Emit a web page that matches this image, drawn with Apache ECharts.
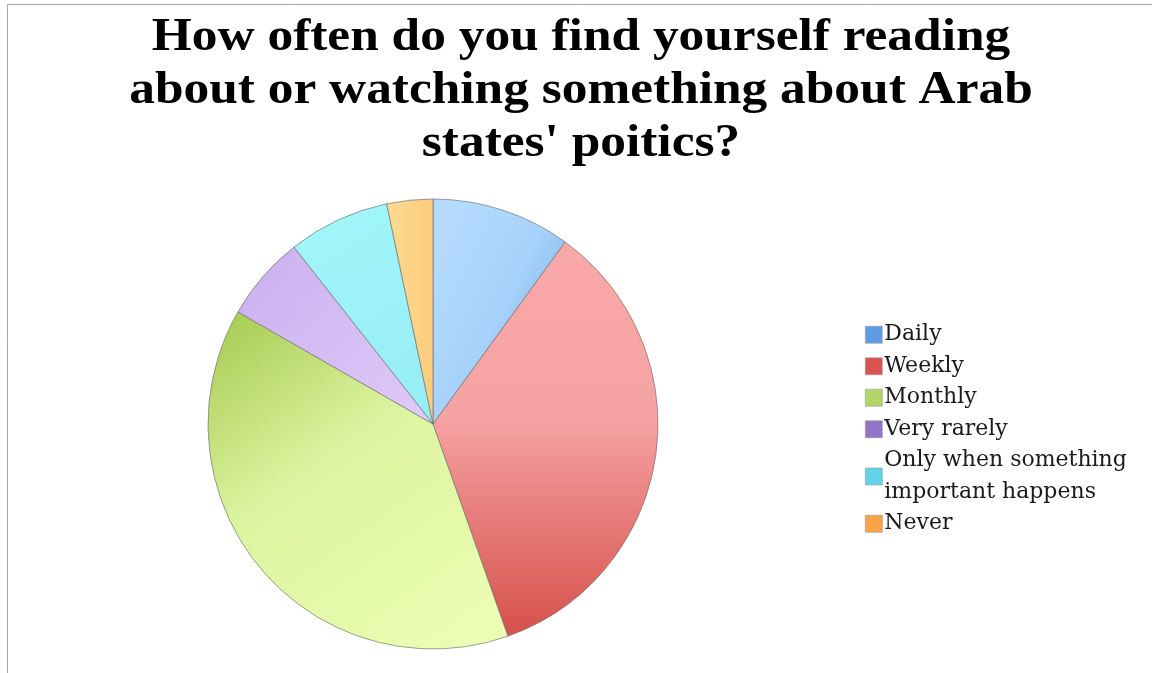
<!DOCTYPE html>
<html>
<head>
<meta charset="utf-8">
<script src="https://cdn.jsdelivr.net/npm/echarts@6/dist/echarts.min.js"></script>
<style>
    html, body { margin: 0; padding: 0; background: #fff; }
    #main { width: 1152px; height: 673px; }
</style>
</head>
<body>
<div id="main"></div>
<script>
// survey answers, clockwise from 12 o'clock
const categories = [
    'Daily',
    'Weekly',
    'Monthly',
    'Very rarely',
    'Only when something important happens',
    'Never',
]
// share of answers (%)
const values = [10.0, 34.6, 38.7, 6.1, 7.3, 3.3]
// legend wraps the long answer on two lines
const legendLabels = [
    'Daily',
    'Weekly',
    'Monthly',
    'Very rarely',
    'Only when something\nimportant happens',
    'Never',
]
const titleText = "How often do you find yourself reading\nabout or watching something about Arab\nstates' poitics?"

const grad = (x, y, x2, y2, stops) => new echarts.graphic.LinearGradient(
    x, y, x2, y2, stops.map((c) => ({ offset: c[0], color: c[1] }))
)

// per slice fill, excel 2007 look
const sliceFills = [
    grad(0, 0.3, 1, 0.6, [[0, '#b4dbfd'], [0.55, '#a6d1fa'], [1, '#7db2e6']]),
    grad(0, 0, 0, 1, [[0, '#f9a8a8'], [0.45, '#f5a2a2'], [1, '#d6504b']]),
    grad(0, 0, 0.8, 1, [[0, '#a4c84e'], [0.45, '#dcf49f'], [1, '#ebfdb2']]),
    grad(0, 0, 1, 1, [[0, '#caafee'], [1, '#dfcbf9']]),
    grad(0, 0, 1, 1, [[0, '#a2f7fb'], [1, '#96ecf5']]),
    grad(0, 0, 1, 0, [[0, '#fddb94'], [1, '#fbcc7c']]),
]
const legendColors = ['#5f9be0', '#d9534f', '#b3d466', '#9174c6', '#62d3e6', '#f9a446']

var chartDom = document.getElementById('main')
var myChart = echarts.init(chartDom)
var option = {
    backgroundColor: '#fff',
    animation: false,
    legend: {
        orient: 'vertical',
        left: 860,
        top: 314,
        itemWidth: 17,
        itemHeight: 17,
        itemGap: 0,
        icon: 'rect',
        selectedMode: false,
        data: categories.map((c, i) => ({
            name: c,
            itemStyle: { color: legendColors[i], borderColor: '#9a9a9a', borderWidth: 0.6 },
        })),
        formatter: (name) => legendLabels[categories.indexOf(name)],
        textStyle: {
            fontFamily: '"DejaVu Serif", serif',
            fontSize: 22,
            lineHeight: 31.5,
            color: '#1a1a1a',
            padding: [0, 0, 0, -3],
        },
    },
    graphic: [
        {
            type: 'rect',
            shape: { x: 7.5, y: 4.5, width: 1300, height: 800 },
            style: { fill: 'none', stroke: '#a6a6a6', lineWidth: 1 },
            silent: true,
        },
        {
            // title, cambria is wider than liberation serif so stretch it a bit
            type: 'text',
            x: 581,
            y: 12,
            scaleX: 1.117,
            silent: true,
            style: {
                text: titleText,
                font: 'bold 46px "Liberation Serif", serif',
                lineHeight: 53,
                align: 'center',
                verticalAlign: 'top',
                fill: '#000',
            },
        },
    ],
    series: [
        {
            type: 'pie',
            center: [433, 424],
            radius: [0, 225],
            startAngle: 90,
            clockwise: true,
            label: { show: false },
            labelLine: { show: false },
            emphasis: { disabled: true },
            itemStyle: {
                borderColor: 'rgba(110,110,110,0.65)',
                borderWidth: 1,
            },
            data: categories.map((c, i) => ({
                name: c,
                value: values[i],
                itemStyle: { color: sliceFills[i] },
            })),
        },
    ],
}
option && myChart.setOption(option)
</script>
</body>
</html>
